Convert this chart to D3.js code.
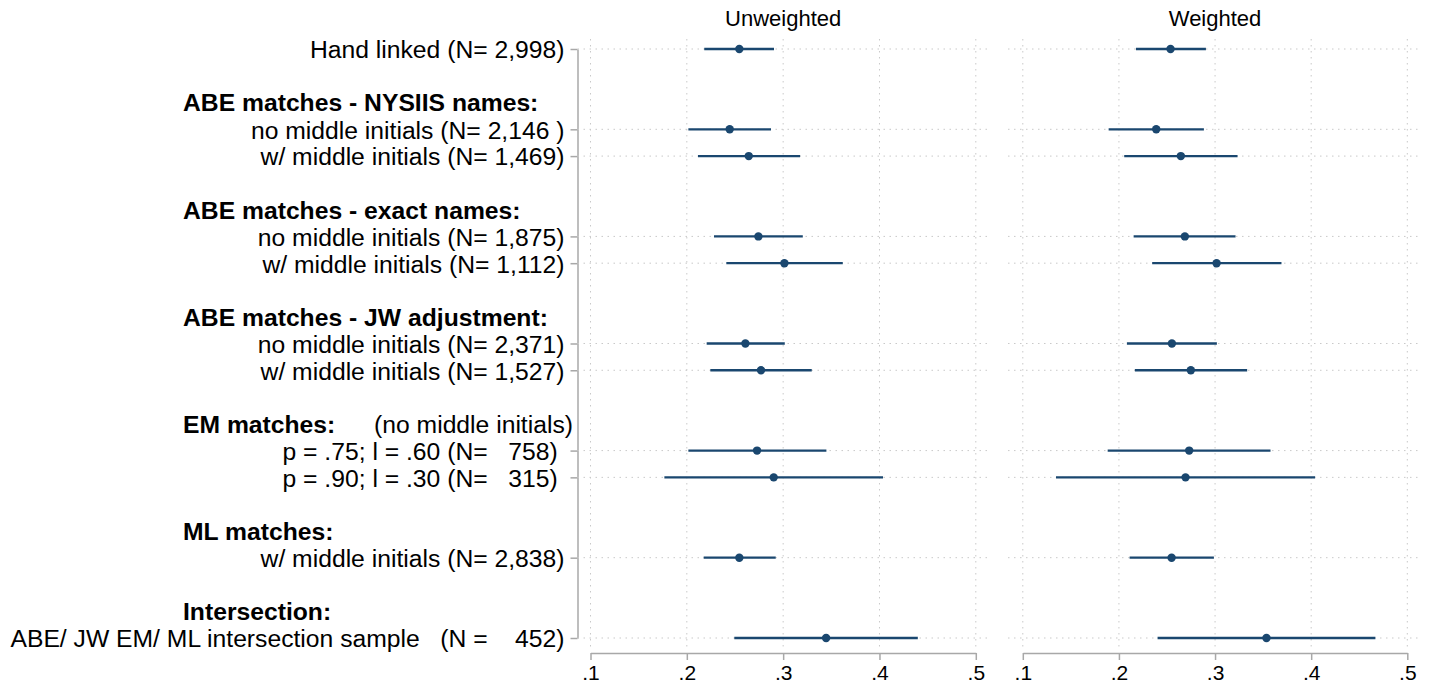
<!DOCTYPE html>
<html>
<head>
<meta charset="utf-8">
<script src="https://cdn.jsdelivr.net/npm/d3@7"></script>
<style>
  body { margin: 0; background: #fff; }
  svg text { font-family: "Liberation Sans", Arial, Helvetica, sans-serif; fill: #000; white-space: pre; }
</style>
</head>
<body>
<svg id="chart" width="1431" height="686"></svg>
<script>
// Row labels (one per estimate), and the group each one belongs to
const categories = [
    "Hand linked (N= 2,998)",
    "no middle initials (N= 2,146 )",
    "w/ middle initials (N= 1,469)",
    "no middle initials (N= 1,875)",
    "w/ middle initials (N= 1,112)",
    "no middle initials (N= 2,371)",
    "w/ middle initials (N= 1,527)",
    "p = .75; l = .60 (N=   758) ",
    "p = .90; l = .30 (N=   315) ",
    "w/ middle initials (N= 2,838)",
    "ABE/ JW EM/ ML intersection sample   (N =    452)"
];
const categoryGroup = [0, 1, 1, 2, 2, 3, 3, 4, 4, 5, 6];
const groupTitles = [null, "ABE matches - NYSIIS names:", "ABE matches - exact names:",
    "ABE matches - JW adjustment:", "EM matches:", "ML matches:", "Intersection:"];
const groupNotes = [null, null, null, null, "(no middle initials)", null, null];

// Point estimates and confidence bounds
const unweighted   = [0.2545, 0.2445, 0.2643, 0.2743, 0.3013, 0.2608, 0.2770, 0.2729, 0.2902, 0.2545, 0.3446];
const unweightedLo = [0.2181, 0.2016, 0.2116, 0.2282, 0.2410, 0.2206, 0.2244, 0.2016, 0.1767, 0.2175, 0.2493];
const unweightedHi = [0.2905, 0.2874, 0.3176, 0.3204, 0.3619, 0.3017, 0.3297, 0.3449, 0.4037, 0.2923, 0.4398];
const weighted     = [0.2537, 0.2388, 0.2644, 0.2686, 0.3016, 0.2551, 0.2748, 0.2731, 0.2693, 0.2548, 0.3535];
const weightedLo   = [0.2177, 0.1893, 0.2055, 0.2153, 0.2346, 0.2083, 0.2166, 0.1883, 0.1345, 0.2111, 0.2402];
const weightedHi   = [0.2905, 0.2884, 0.3234, 0.3213, 0.3691, 0.3019, 0.3334, 0.3577, 0.4041, 0.2988, 0.4668];

const xTicks = [0.1, 0.2, 0.3, 0.4, 0.5];
const xTickLabels = [".1", ".2", ".3", ".4", ".5"];
const panelTitles = ["Unweighted", "Weighted"];

const navy = "#1a476f";
const gridColor = "#c9c9c9";
const axisColor = "#a8a8a8";
const labelSize = 24.7;

// Build the row sequence: estimates, with a blank + header slot before each titled group
let rows = [];
categories.forEach((label, i) => {
    const g = categoryGroup[i];
    if (i > 0 && g !== categoryGroup[i - 1] && groupTitles[g]) {
        rows.push({ type: "blank" });
        rows.push({ type: "header", text: groupTitles[g], note: groupNotes[g] });
    }
    rows.push({ type: "est", text: label, idx: i });
});
rows.forEach((r, k) => r.slot = k);
const estRows = rows.filter(r => r.type === "est");

const svg = d3.select("#chart");

const y = d3.scalePoint()
    .domain(rows.map(r => r.slot))
    .range([49, 638]);

// Left axis with the row labels
const yAxisX = 577.5;
const yAxis = d3.axisLeft(y)
    .tickValues(estRows.map(r => r.slot))
    .tickSize(7)
    .tickSizeOuter(0)
    .tickPadding(6)
    .tickFormat(s => rows[s].text);

const yg = svg.append("g")
    .attr("transform", `translate(${yAxisX},0)`)
    .call(yAxis);
yg.select(".domain").attr("stroke", axisColor).attr("stroke-width", 1.5);
yg.selectAll(".tick line").attr("stroke", axisColor).attr("stroke-width", 1.5);
yg.selectAll(".tick text")
    .attr("font-size", labelSize)
    .attr("xml:space", "preserve")
    .attr("dy", "0.36em");

// Group headers
const headers = rows.filter(r => r.type === "header");
svg.append("g").selectAll("text.hdr")
    .data(headers)
    .join("text")
    .attr("class", "hdr")
    .attr("x", 183)
    .attr("y", d => y(d.slot))
    .attr("dy", "0.36em")
    .attr("font-size", labelSize)
    .attr("font-weight", "bold")
    .text(d => d.text);
svg.append("g").selectAll("text.note")
    .data(headers.filter(d => d.note))
    .join("text")
    .attr("class", "note")
    .attr("x", 573)
    .attr("y", d => y(d.slot))
    .attr("dy", "0.36em")
    .attr("text-anchor", "end")
    .attr("font-size", labelSize)
    .text(d => d.note);

// Panels
const panels = [
    { title: panelTitles[0], range: [590.5, 975.8], box: [577.5, 990], est: unweighted, lo: unweightedLo, hi: unweightedHi },
    { title: panelTitles[1], range: [1022.8, 1407.3], box: [1008, 1421], est: weighted, lo: weightedLo, hi: weightedHi }
];

panels.forEach(p => {
    const x = d3.scaleLinear().domain([0.1, 0.5]).range(p.range);
    const g = svg.append("g");

    // vertical grid
    g.selectAll("line.vgrid")
        .data(xTicks)
        .join("line")
        .attr("x1", d => x(d)).attr("x2", d => x(d))
        .attr("y1", 39).attr("y2", 647)
        .attr("stroke", gridColor)
        .attr("stroke-width", 1)
        .attr("stroke-dasharray", "1.5,4.5");

    // horizontal grid at estimate rows
    g.selectAll("line.hgrid")
        .data(estRows)
        .join("line")
        .attr("x1", p.box[0]).attr("x2", p.box[1])
        .attr("y1", d => y(d.slot)).attr("y2", d => y(d.slot))
        .attr("stroke", gridColor)
        .attr("stroke-width", 1)
        .attr("stroke-dasharray", "1.5,4.5");

    // confidence intervals
    g.selectAll("line.ci")
        .data(estRows)
        .join("line")
        .attr("x1", d => x(p.lo[d.idx])).attr("x2", d => x(p.hi[d.idx]))
        .attr("y1", d => y(d.slot)).attr("y2", d => y(d.slot))
        .attr("stroke", navy)
        .attr("stroke-width", 2.3);

    // point estimates
    g.selectAll("circle")
        .data(estRows)
        .join("circle")
        .attr("cx", d => x(p.est[d.idx]))
        .attr("cy", d => y(d.slot))
        .attr("r", 4.2)
        .attr("fill", navy);

    // x axis
    const xg = svg.append("g")
        .attr("transform", "translate(0,653)")
        .call(d3.axisBottom(x)
            .tickValues(xTicks)
            .tickSize(7)
            .tickSizeOuter(0)
            .tickPadding(5)
            .tickFormat((d, i) => xTickLabels[i]));
    xg.select(".domain").attr("stroke", axisColor).attr("stroke-width", 1.5);
    xg.selectAll(".tick line").attr("stroke", axisColor).attr("stroke-width", 1.5);
    xg.selectAll(".tick text").attr("font-size", 21).attr("fill", "#000");

    // panel title
    svg.append("text")
        .attr("x", (p.range[0] + p.range[1]) / 2)
        .attr("y", 26)
        .attr("text-anchor", "middle")
        .attr("font-size", 22)
        .text(p.title);
});
</script>
</body>
</html>
